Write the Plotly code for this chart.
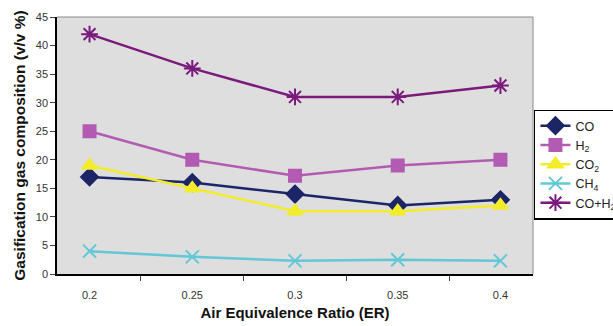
import plotly.graph_objects as go

er = ["0.2", "0.25", "0.3", "0.35", "0.4"]
co = [17, 16, 14, 12, 13]
h2 = [25, 20, 17.2, 19, 20]
co2 = [19, 15, 11, 11, 12]
ch4 = [4, 3, 2.3, 2.5, 2.3]
co_h2 = [42, 36, 31, 31, 33]

series = [
    ("CO", co, "#1c2566", "diamond", 13),
    ("H<sub>2</sub>", h2, "#b35bb3", "square", 12),
    ("CO<sub>2</sub>", co2, "#f2ec2a", "triangle-up", 13),
    ("CH<sub>4</sub>", ch4, "#62c7d6", "x-thin-open", 13),
    ("CO+H<sub>2</sub>", co_h2, "#7a1a7c", "asterisk-open", 14),
]

fig = go.Figure()
for name, vals, color, sym, size in series:
    fig.add_trace(go.Scatter(
        x=er, y=vals, name=name, mode="lines+markers",
        line=dict(color=color, width=2.5),
        marker=dict(symbol=sym, size=size, color=color,
                    line=dict(color=color, width=2)),
    ))

fig.update_layout(
    width=613, height=326,
    margin=dict(l=57, r=80, t=17, b=52, autoexpand=False),
    paper_bgcolor="white",
    plot_bgcolor="#dedede",
    font=dict(family="Arial, Liberation Sans, sans-serif", color="#333"),
    showlegend=True,
    legend=dict(
        x=1.002, y=0.64, xanchor="left", yanchor="top",
        bordercolor="black", borderwidth=1.5, bgcolor="white",
        font=dict(size=12.5, color="#222"),
        itemwidth=30, tracegroupgap=0,
    ),
    shapes=[
        dict(type="line", xref="paper", yref="paper", x0=0, x1=1, y0=1, y1=1,
             line=dict(color="#8a8a8a", width=1)),
        dict(type="line", xref="paper", yref="paper", x0=1, x1=1, y0=0, y1=1,
             line=dict(color="#8a8a8a", width=1)),
    ],
)
fig.update_xaxes(
    type="category", tickson="boundaries", ticks="outside", ticklen=5,
    showline=True, linecolor="black", linewidth=1.5, showgrid=False,
    tickfont=dict(size=11, color="#333"), ticklabelstandoff=10,
    title=dict(text="<b>Air Equivalence Ratio (ER)</b>",
               font=dict(size=15, color="#111"), standoff=8),
)
fig.update_yaxes(
    range=[0, 45], dtick=5, ticks="outside", ticklen=5,
    showline=True, linecolor="black", linewidth=1.5, showgrid=False,
    zeroline=False,
    tickfont=dict(size=11, color="#333"),
    title=dict(text="<b>Gasification gas composition (v/v %)</b>",
               font=dict(size=15.5, color="#111"), standoff=6),
)

fig.write_html("out.html")
